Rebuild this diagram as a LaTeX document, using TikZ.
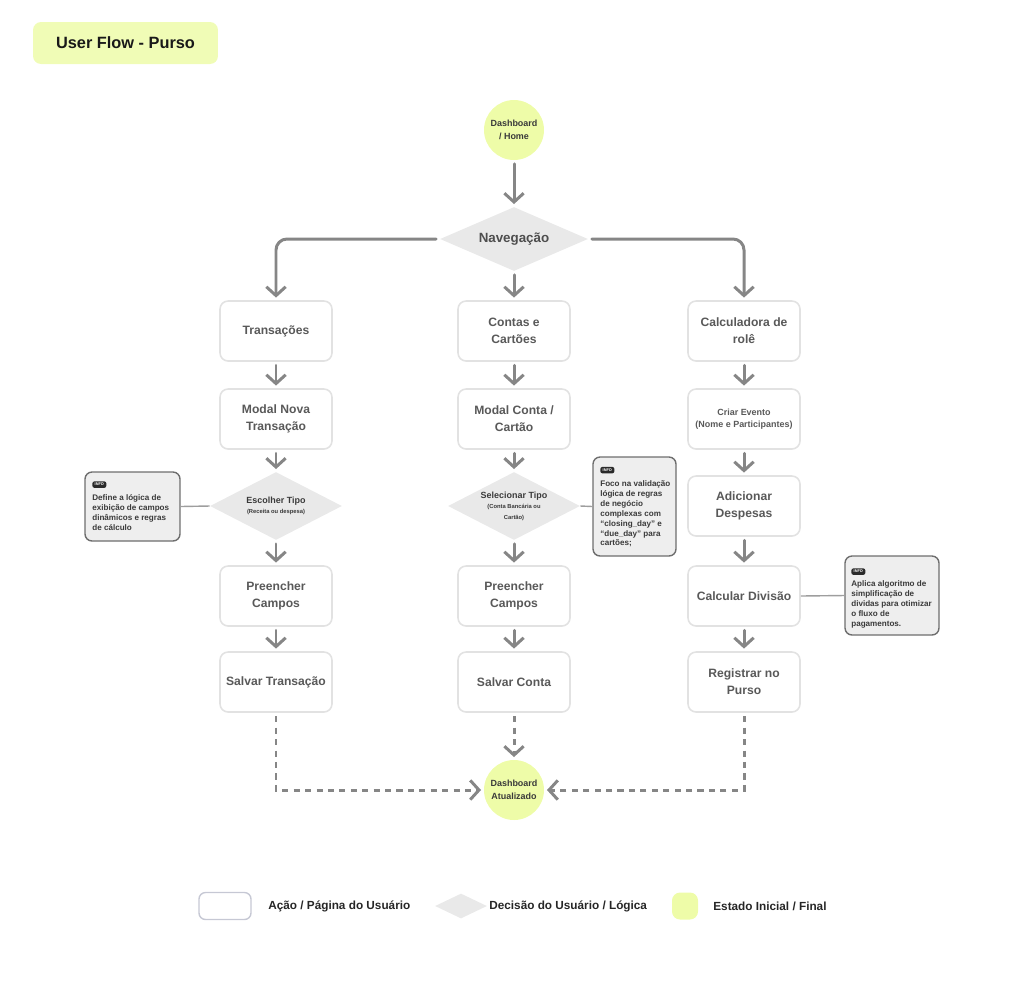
\documentclass[tikz,border=0pt]{standalone}
\usepackage{fontspec}
\setmainfont{Liberation Sans}
\usetikzlibrary{shapes.geometric,arrows.meta}
\definecolor{ylw}{HTML}{EEFCA8}
\definecolor{ttl}{HTML}{F0FCB6}
\definecolor{boxline}{HTML}{E2E2E2}
\definecolor{boxtext}{HTML}{595959}
\definecolor{darktext}{HTML}{3A3A3A}
\definecolor{arrowc}{HTML}{868686}
\definecolor{decfill}{HTML}{E9E9E9}
\definecolor{infofill}{HTML}{EEEEEE}
\definecolor{infoline}{HTML}{6E6E6E}
\definecolor{badgec}{HTML}{2A2A2A}
\definecolor{legline}{HTML}{C6C8D4}
\begin{document}
\begin{tikzpicture}[x=0.02cm,y=-0.02cm,
  box/.style={draw=boxline, line width=0.9pt, rounded corners=0.16cm, fill=white,
    minimum width=2.24cm, minimum height=1.2cm, align=center, text=boxtext,
    font=\fontsize{6.9}{9.6}\selectfont\bfseries, inner sep=0pt},
  smallbox/.style={box, font=\fontsize{5.1}{7}\selectfont\bfseries},
  dec/.style={diamond, aspect=2, fill=decfill, minimum width=2.64cm, minimum height=1.36cm,
    inner sep=0pt, align=center, text=darktext, font=\fontsize{5.1}{6.2}\selectfont\bfseries},
  state/.style={circle, fill=ylw, minimum size=1.2cm, inner sep=0pt, align=center,
    font=\fontsize{5.1}{7.4}\selectfont\bfseries, text=darktext},
  arr/.style={draw=arrowc, line width=1.7pt, line cap=round,
    -{Straight Barb[length=5pt,width=11pt,line width=1.7pt]}, shorten >=1.5pt, shorten <=2pt},
  darr/.style={arr, dash pattern=on 3.5pt off 3pt, line cap=butt},
  infobox/.style={draw=infoline, line width=0.8pt, fill=infofill, rounded corners=0.14cm, inner sep=0pt},
  infotext/.style={anchor=north west, inner sep=0pt, align=left, text=darktext,
    font=\fontsize{4.6}{5.67}\selectfont\bfseries},
  badge/.style={fill=badgec, rounded corners=1.2pt, minimum width=0.28cm, minimum height=0.13cm,
    inner sep=0pt, text=white, font=\fontsize{2.2}{2.4}\selectfont\bfseries},
  conn/.style={draw=arrowc!80, line width=0.8pt},
  legtext/.style={anchor=west, inner sep=0pt, text=black!85, font=\fontsize{6.7}{8}\selectfont\bfseries}
]
\useasboundingbox (0,0) rectangle (1024,985);

% title
\node[fill=ttl, rounded corners=0.16cm, minimum width=3.7cm, minimum height=0.84cm, inner sep=0pt,
  font=\fontsize{9.3}{11}\selectfont\bfseries, text=black!90] (title) at (125.5,43) {User Flow - Purso};

% start
\node[state] (start) at (514,130) {Dashboard\\/ Home};
\node[dec, minimum width=2.96cm, minimum height=1.28cm, font=\fontsize{7.6}{9}\selectfont\bfseries, text=darktext!90] (nav) at (514,239) {Navegação};

% left column
\node[box] (t1) at (276,331) {Transações};
\node[box] (t2) at (276,419) {Modal Nova\\Transação};
\node[dec] (t3) at (276,506) {Escolher Tipo\\[-0.5pt]{\fontsize{3.3}{4.4}\selectfont (Receita ou despesa)}};
\node[box] (t4) at (276,596) {Preencher\\Campos};
\node[box] (t5) at (276,682) {Salvar Transação};

% center column
\node[box] (c1) at (514,331) {Contas e\\Cartões};
\node[box] (c2) at (514,419) {Modal Conta /\\Cartão};
\node[dec] (c3) at (514,506) {Selecionar Tipo\\[-0.5pt]{\fontsize{3.3}{5.4}\selectfont (Conta\ Bancária ou}\\{\fontsize{3.3}{5.4}\selectfont Cartão)}};
\node[box] (c4) at (514,596) {Preencher\\Campos};
\node[box] (c5) at (514,682) {Salvar Conta};

% right column
\node[box] (r1) at (744,331) {Calculadora de\\rolê};
\node[smallbox] (r2) at (744,419) {Criar Evento\\(Nome e Participantes)};
\node[box] (r3) at (744,506) {Adicionar\\Despesas};
\node[box] (r4) at (744,596) {Calcular Divisão};
\node[box] (r5) at (744,682) {Registrar no\\Purso};

% end
\node[state] (end) at (514,790) {Dashboard\\Atualizado};

% arrows
\draw[arr] (start) -- (nav);
\draw[arr, rounded corners=0.22cm] (nav.west) -| (t1.north);
\draw[arr] (nav.south) -- (c1.north);
\draw[arr, rounded corners=0.22cm] (nav.east) -| (r1.north);

\draw[arr] (t1) -- (t2);
\draw[arr] (t2) -- (t3);
\draw[arr] (t3) -- (t4);
\draw[arr] (t4) -- (t5);

\draw[arr] (c1) -- (c2);
\draw[arr] (c2) -- (c3);
\draw[arr] (c3) -- (c4);
\draw[arr] (c4) -- (c5);

\draw[arr] (r1) -- (r2);
\draw[arr] (r2) -- (r3);
\draw[arr] (r3) -- (r4);
\draw[arr] (r4) -- (r5);

\draw[darr] (t5.south) |- (end.west);
\draw[darr] (c5.south) -- (end.north);
\draw[darr] (r5.south) |- (end.east);

% info boxes
\node[infobox, minimum width=1.9cm, minimum height=1.38cm] (i1) at (132.5,506.5) {};
\node[badge, anchor=north west] (i1b) at (92,481) {INFO};
\node[infotext] (i1t) at (92,494) {Define a lógica de\\exibição de campos\\dinâmicos e regras\\de cálculo};
\draw[conn] (i1.east) -- (t3.west);

\node[infobox, minimum width=1.66cm, minimum height=1.98cm] (i2) at (634.5,506.5) {};
\node[badge, anchor=north west] (i2b) at (600,466.5) {INFO};
\node[infotext] (i2t) at (600,480) {Foco na validação\\lógica de regras\\de negócio\\complexas com\\“closing\_day” e\\“due\_day” para\\cartões;};
\draw[conn] (c3.east) -- (i2.west);

\node[infobox, minimum width=1.88cm, minimum height=1.58cm] (i3) at (892,595.5) {};
\node[badge, anchor=north west] (i3b) at (851,568) {INFO};
\node[infotext] (i3t) at (851,580) {Aplica algoritmo de\\simplificação de\\dividas para otimizar\\o fluxo de\\pagamentos.};
\draw[conn] (r4.east) -- (i3.west);

% legend
\node[draw=legline, line width=0.8pt, rounded corners=0.13cm, minimum width=1.04cm, minimum height=0.54cm, inner sep=0pt] (lg1) at (225,906) {};
\node[legtext] (lg1t) at (268,906) {Ação / Página do Usuário};
\node[diamond, fill=decfill, aspect=2, minimum width=1.04cm, minimum height=0.5cm, inner sep=0pt] (lg2) at (461,906) {};
\node[legtext] (lg2t) at (489,906) {Decisão do Usuário / Lógica};
\node[fill=ylw, rounded corners=0.16cm, minimum width=0.52cm, minimum height=0.54cm, inner sep=0pt] (lg3) at (685,906) {};
\node[legtext] (lg3t) at (713,906) {Estado Inicial / Final};
\end{tikzpicture}
\end{document}
